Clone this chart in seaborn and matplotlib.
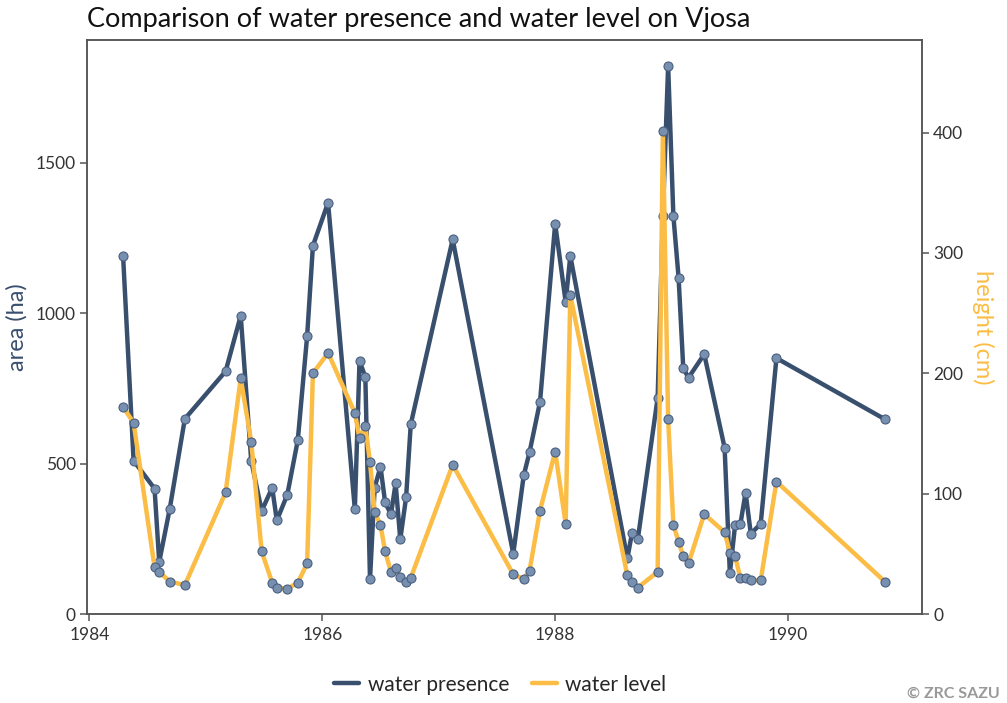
import matplotlib
matplotlib.use("Agg")
import matplotlib.pyplot as plt
from matplotlib.lines import Line2D
import seaborn as sns
import pandas as pd

# ---- data ----
years = [1984.29, 1984.38, 1984.56, 1984.60, 1984.69, 1984.82, 1985.17, 1985.30,
         1985.39, 1985.48, 1985.57, 1985.61, 1985.70, 1985.79, 1985.87, 1985.92,
         1986.05, 1986.28, 1986.32, 1986.37, 1986.41, 1986.45, 1986.50, 1986.54,
         1986.59, 1986.63, 1986.67, 1986.72, 1986.76, 1987.12, 1987.64, 1987.73,
         1987.78, 1987.87, 1988.00, 1988.09, 1988.13, 1988.62, 1988.66, 1988.71,
         1988.88, 1988.925, 1988.97, 1989.015, 1989.06, 1989.10, 1989.145, 1989.28,
         1989.455, 1989.50, 1989.545, 1989.59, 1989.635, 1989.68, 1989.765, 1989.90,
         1990.83]
water_presence = [1190, 510, 417, 173, 349, 649, 807, 992,
                  510, 343, 420, 311, 397, 578, 923, 1225,
                  1368, 348, 842, 788, 115, 420, 490, 371,
                  331, 435, 248, 388, 631, 1246, 200, 461,
                  538, 706, 1298, 1038, 1191, 185, 270, 250,
                  719, 1324, 1824, 1324, 1118, 817, 786, 864,
                  553, 135, 296, 298, 404, 267, 300, 851,
                  648]
water_level = [172, 159, 39, 35, 27, 24, 101, 196,
               143, 52, 26, 22, 21, 26, 42, 200,
               217, 167, 146, 156, 126, 85, 74, 52,
               35, 38, 31, 27, 30, 124, 33, 29,
               36, 86, 135, 75, 265, 32, 27, 22,
               35, 401, 162, 74, 60, 48, 42, 83,
               68, 51, 48, 30, 30, 28, 28, 110,
               27]
x_ticks = [1984, 1986, 1988, 1990]
left_ticks = [0, 500, 1000, 1500]
right_ticks = [0, 100, 200, 300, 400]

df = pd.DataFrame({"year": years, "presence": water_presence, "level": water_level})

BLUE = "#394f6e"
ORANGE = "#fbbd45"
MFACE = "#7890b0"
MEDGE = "#4a5f80"
SPINE = "#555555"
TXT = "#333333"
FONT = ["Lato", "DejaVu Sans"]

sns.set_theme(style="white")
plt.rcParams["font.family"] = FONT

fig = plt.figure(figsize=(10.07, 7.03), dpi=100)
ax = fig.add_axes([0.0864, 0.1266, 0.8292, 0.8165])
ax2 = ax.twinx()

sns.lineplot(data=df, x="year", y="presence", ax=ax, sort=False, color=BLUE,
             linewidth=3.2, marker="o", markersize=6.5, markerfacecolor=MFACE,
             markeredgecolor=MEDGE, markeredgewidth=0.8, legend=False)
sns.lineplot(data=df, x="year", y="level", ax=ax2, sort=False, color=ORANGE,
             linewidth=3.2, marker="o", markersize=6.5, markerfacecolor=MFACE,
             markeredgecolor=MEDGE, markeredgewidth=0.8, legend=False)

ax.set_xlim(1983.98, 1991.15)
ax.set_ylim(0, 1909)
ax2.set_ylim(0, 477)
ax.set_xticks(x_ticks)
ax.set_xticklabels([str(t) for t in x_ticks])
ax.set_yticks(left_ticks)
ax2.set_yticks(right_ticks)

for a in (ax, ax2):
    for s in a.spines.values():
        s.set_color(SPINE)
        s.set_linewidth(1.1)
    a.tick_params(colors=TXT, labelsize=12.5, length=5, width=1.1, direction="out")
    a.tick_params(axis="both", color=SPINE)
    a.grid(False)
ax.tick_params(axis="y", left=True, pad=3)
ax.tick_params(axis="x", bottom=True, pad=4)
ax2.tick_params(axis="y", right=True, pad=3)

ax.set_xlabel("")
ax.set_ylabel("area (ha)", color=BLUE, fontsize=17, labelpad=6)
ax2.set_ylabel("height (cm)", color=ORANGE, fontsize=17, rotation=270, labelpad=22)

fig.text(0.0864, 0.972, "Comparison of water presence and water level on Vjosa",
         fontsize=19.5, color="#111111", ha="left", va="center")

handles = [Line2D([0], [0], color=BLUE, lw=3.2), Line2D([0], [0], color=ORANGE, lw=3.2)]
fig.legend(handles, ["water presence", "water level"], loc="center",
           bbox_to_anchor=(0.497, 0.026), ncol=2, frameon=False, fontsize=15,
           handlelength=1.2, columnspacing=1.1, handletextpad=0.4)

fig.text(0.993, 0.013, "© ZRC SAZU", fontsize=11.5, color="#999999",
         ha="right", va="center", fontweight="bold")

fig.savefig("out.png", dpi=100)
